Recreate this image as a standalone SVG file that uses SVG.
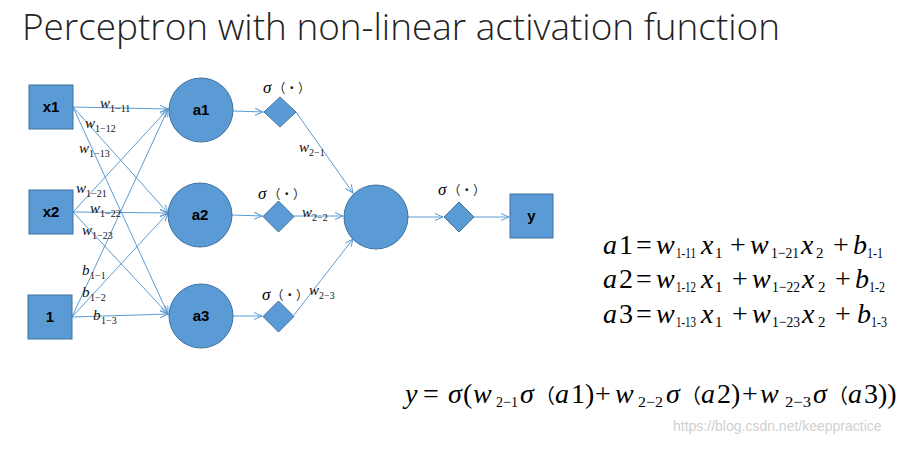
<svg xmlns="http://www.w3.org/2000/svg" width="923" height="453" viewBox="0 0 923 453">
<defs>
<marker id="arr" markerWidth="10" markerHeight="8" refX="8" refY="4" orient="auto" markerUnits="userSpaceOnUse">
<path d="M0,0.5 L8,4 L0,7.5" fill="none" stroke="#5B9BD5" stroke-width="1"/>
</marker>
</defs>
<style>
.n{fill:#5B9BD5;stroke:#41719C;stroke-width:1}
.nl{font-family:'Liberation Sans',Arial,sans-serif;font-weight:bold;font-size:15px;fill:#000;text-anchor:middle}
.c{stroke:#5B9BD5;stroke-width:1;fill:none;marker-end:url(#arr)}
.ser{font-family:'Liberation Serif','Times New Roman',serif}
.lab{font-size:15px;fill:#111}
.it{font-style:italic}
.sub{font-size:10px}
.sg{font-size:17px;fill:#000}
.par{fill:#222;font-size:12.5px;font-family:'Noto Sans CJK SC',sans-serif}
.eq{font-size:28px;fill:#000}
.es{font-size:15px}
.cjk{font-family:'Noto Sans CJK SC',sans-serif;font-size:20px}
</style>
<text x="22" y="40" font-family="Open Sans, Lato, sans-serif" font-weight="300" font-size="37" fill="#222" textLength="758" lengthAdjust="spacingAndGlyphs">Perceptron with non-linear activation function</text>

<g id="connectors">
<line class="c" x1="73" y1="107" x2="168" y2="109"/>
<line class="c" x1="73" y1="107" x2="168" y2="213"/>
<line class="c" x1="73" y1="107" x2="168" y2="314"/>
<line class="c" x1="73" y1="212" x2="168" y2="109"/>
<line class="c" x1="73" y1="212" x2="168" y2="213"/>
<line class="c" x1="73" y1="212" x2="168" y2="314"/>
<line class="c" x1="72" y1="317" x2="168" y2="109"/>
<line class="c" x1="72" y1="317" x2="168" y2="213"/>
<line class="c" x1="72" y1="317" x2="168" y2="314"/>
<line class="c" x1="233" y1="111" x2="263" y2="112"/>
<line class="c" x1="232" y1="215" x2="262" y2="216"/>
<line class="c" x1="233" y1="316" x2="262" y2="316"/>
<line class="c" x1="296" y1="112" x2="353" y2="193"/>
<line class="c" x1="294" y1="216" x2="343" y2="216"/>
<line class="c" x1="294" y1="315" x2="353" y2="239"/>
<line class="c" x1="408" y1="217" x2="443" y2="217"/>
<line class="c" x1="474" y1="217" x2="509" y2="217"/>
</g>

<g id="x1"><rect class="n" x="29" y="85" width="44" height="44"/><text class="nl" x="51" y="112">x1</text></g>
<g id="x2"><rect class="n" x="29" y="190" width="44" height="44"/><text class="nl" x="51" y="217">x2</text></g>
<g id="one"><rect class="n" x="28" y="295" width="44" height="44"/><text class="nl" x="50" y="322">1</text></g>
<g id="a1"><circle class="n" cx="201" cy="110" r="32"/><text class="nl" x="201" y="115">a1</text></g>
<g id="a2"><circle class="n" cx="200" cy="215" r="32"/><text class="nl" x="200" y="220">a2</text></g>
<g id="a3"><circle class="n" cx="201" cy="316" r="32"/><text class="nl" x="201" y="321">a3</text></g>
<g id="d1"><polygon class="n" points="280,97 296,112 280,127 264,112"/></g>
<g id="d2"><polygon class="n" points="278.5,201 294,216.5 278.5,232 263,216.5"/></g>
<g id="d3"><polygon class="n" points="278.5,301 294,316.5 278.5,332 263,316.5"/></g>
<g id="out"><circle class="n" cx="376" cy="217" r="32"/></g>
<g id="d4"><polygon class="n" points="459,202 474,217 459,232 444,217"/></g>
<g id="y"><rect class="n" x="510" y="194" width="43" height="44"/><text class="nl" x="531.5" y="221">y</text></g>

<g id="weights" class="lab ser">
<text x="100" y="108"><tspan class="it">w</tspan><tspan class="sub" x="110" y="112">1−11</tspan></text>
<text x="85" y="128"><tspan class="it">w</tspan><tspan class="sub" x="95" y="132">1−12</tspan></text>
<text x="79" y="153"><tspan class="it">w</tspan><tspan class="sub" x="89" y="157">1−13</tspan></text>
<text x="76" y="193"><tspan class="it">w</tspan><tspan class="sub" x="86" y="197">1−21</tspan></text>
<text x="90" y="213"><tspan class="it">w</tspan><tspan class="sub" x="100" y="217">1−22</tspan></text>
<text x="82" y="235"><tspan class="it">w</tspan><tspan class="sub" x="92" y="239">1−23</tspan></text>
<text x="82" y="275"><tspan class="it">b</tspan><tspan class="sub" x="90" y="279">1−1</tspan></text>
<text x="82" y="297"><tspan class="it">b</tspan><tspan class="sub" x="90" y="301">1−2</tspan></text>
<text x="93" y="320"><tspan class="it">b</tspan><tspan class="sub" x="101" y="324">1−3</tspan></text>
<text x="299" y="152"><tspan class="it">w</tspan><tspan class="sub" x="309" y="156">2−1</tspan></text>
<text x="302" y="217"><tspan class="it">w</tspan><tspan class="sub" x="312" y="221">2−2</tspan></text>
<text x="309" y="295"><tspan class="it">w</tspan><tspan class="sub" x="319" y="299">2−3</tspan></text>
</g>

<g id="sigmas" class="sg ser">
<text x="263" y="93"><tspan class="it">σ</tspan><tspan class="par" x="273">（·）</tspan></text>
<text x="258" y="199"><tspan class="it">σ</tspan><tspan class="par" x="268">（·）</tspan></text>
<text x="262" y="300"><tspan class="it">σ</tspan><tspan class="par" x="271">（·）</tspan></text>
<text x="438" y="195"><tspan class="it">σ</tspan><tspan class="par" x="448">（·）</tspan></text>
</g>

<g id="equations" class="eq ser">
<text y="254"><tspan class="it" x="603">a</tspan><tspan x="619">1</tspan><tspan x="636">=</tspan><tspan class="it" x="656">w</tspan><tspan class="es" x="676" y="258" textLength="20" lengthAdjust="spacingAndGlyphs">1-11</tspan><tspan class="it" x="701" y="254">x</tspan><tspan class="es" x="715" y="258">1</tspan><tspan x="730" y="254">+</tspan><tspan class="it" x="750">w</tspan><tspan class="es" x="771" y="258" textLength="28" lengthAdjust="spacingAndGlyphs">1−21</tspan><tspan class="it" x="801" y="254">x</tspan><tspan class="es" x="816" y="258">2</tspan><tspan x="833" y="254">+</tspan><tspan class="it" x="853">b</tspan><tspan class="es" x="867" y="258" textLength="16" lengthAdjust="spacingAndGlyphs">1-1</tspan></text>
<text y="288"><tspan class="it" x="603">a</tspan><tspan x="619">2</tspan><tspan x="636">=</tspan><tspan class="it" x="656">w</tspan><tspan class="es" x="676" y="292" textLength="20" lengthAdjust="spacingAndGlyphs">1-12</tspan><tspan class="it" x="701" y="288">x</tspan><tspan class="es" x="715" y="292">1</tspan><tspan x="732" y="288">+</tspan><tspan class="it" x="752">w</tspan><tspan class="es" x="772" y="292" textLength="28" lengthAdjust="spacingAndGlyphs">1−22</tspan><tspan class="it" x="802" y="288">x</tspan><tspan class="es" x="818" y="292">2</tspan><tspan x="835" y="288">+</tspan><tspan class="it" x="855">b</tspan><tspan class="es" x="869" y="292" textLength="16" lengthAdjust="spacingAndGlyphs">1-2</tspan></text>
<text y="323"><tspan class="it" x="603">a</tspan><tspan x="619">3</tspan><tspan x="636">=</tspan><tspan class="it" x="656">w</tspan><tspan class="es" x="676" y="327" textLength="20" lengthAdjust="spacingAndGlyphs">1-13</tspan><tspan class="it" x="701" y="323">x</tspan><tspan class="es" x="715" y="327">1</tspan><tspan x="732" y="323">+</tspan><tspan class="it" x="752">w</tspan><tspan class="es" x="772" y="327" textLength="28" lengthAdjust="spacingAndGlyphs">1−23</tspan><tspan class="it" x="802" y="323">x</tspan><tspan class="es" x="818" y="327">2</tspan><tspan x="835" y="323">+</tspan><tspan class="it" x="857">b</tspan><tspan class="es" x="871" y="327" textLength="16" lengthAdjust="spacingAndGlyphs">1-3</tspan></text>
<text y="403"><tspan class="it" x="405">y</tspan><tspan x="423">=</tspan><tspan class="it" x="448">σ</tspan><tspan x="463">(</tspan><tspan class="it" x="473">w</tspan><tspan class="es" x="496" y="407" textLength="22" lengthAdjust="spacingAndGlyphs">2−1</tspan><tspan class="it" x="520" y="403">σ</tspan><tspan class="cjk" x="535">（</tspan><tspan class="it" x="555">a</tspan><tspan x="571">1)</tspan><tspan x="595">+</tspan><tspan class="it" x="615">w</tspan><tspan class="es" x="638" y="407" textLength="25" lengthAdjust="spacingAndGlyphs">2−2</tspan><tspan class="it" x="666" y="403">σ</tspan><tspan class="cjk" x="681">（</tspan><tspan class="it" x="701">a</tspan><tspan x="717">2)</tspan><tspan x="742">+</tspan><tspan class="it" x="760">w</tspan><tspan class="es" x="785" y="407" textLength="26" lengthAdjust="spacingAndGlyphs">2−3</tspan><tspan class="it" x="813" y="403">σ</tspan><tspan class="cjk" x="828">（</tspan><tspan class="it" x="848">a</tspan><tspan x="864">3))</tspan></text>
</g>
<text x="673" y="431" font-family="Liberation Sans, Arial, sans-serif" font-size="14" fill="#D0D0D0">https://blog.csdn.net/keeppractice</text>
</svg>
